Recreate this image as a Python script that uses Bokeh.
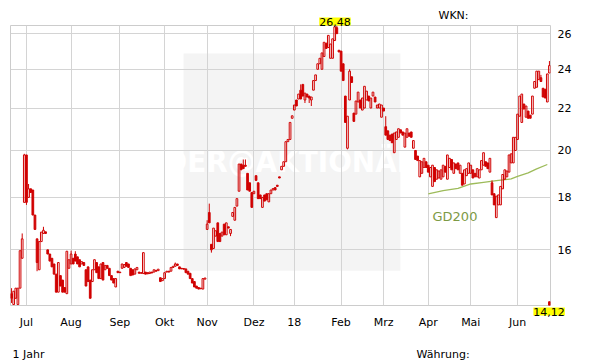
import numpy as np
import pandas as pd
from bokeh.plotting import figure
from bokeh.models import (FixedTicker, Label, BoxAnnotation, Range1d, Title,
                          LinearAxis, PrintfTickFormatter)
from bokeh.embed import file_html
from bokeh.resources import INLINE

# ---------------- data ----------------
holidays = ["2017-10-03", "2017-10-31", "2017-12-25", "2017-12-26",
            "2018-01-01", "2018-03-30", "2018-04-02", "2018-05-01"]
month_labels = ["Jul", "Aug", "Sep", "Okt", "Nov", "Dez", "18",
                "Feb", "Mrz", "Apr", "Mai", "Jun"]
y_ticks = [16, 18, 20, 22, 24, 26]

opens = [14.50, 14.15, 14.35, 14.15, 14.68, 15.70, 17.80, 19.80, 18.00, 18.35,
         18.30, 17.30, 16.40, 15.30, 16.30, 16.60, 16.66, 16.00, 15.85, 15.70,
         15.50, 15.15, 14.55, 15.10, 14.95, 14.70, 14.50, 15.35, 15.50, 15.70,
         15.85, 15.75, 15.65, 15.50, 15.55, 15.30, 15.40, 14.95, 14.90, 15.30,
         15.55, 15.40, 15.00, 15.55, 15.30, 15.45, 15.35, 15.10, 15.00, 14.72,
         15.25, 15.22, 15.35, 15.38, 15.55, 15.50, 15.35, 15.30, 15.15, 15.30,
         15.22, 15.20, 15.17, 15.22, 15.20, 15.17, 15.22, 15.22, 15.28, 15.27,
         15.03, 14.93, 15.00, 15.22, 15.25, 15.25, 15.38, 15.42, 15.50, 15.40,
         15.35, 15.34, 15.33, 15.25, 15.18, 15.00, 14.90, 14.75, 14.70, 14.68,
         14.65, 14.98, 16.75, 17.40, 16.20, 16.05, 16.50, 17.00, 16.60, 16.50,
         16.95, 16.55, 16.85, 16.60, 17.25, 17.10, 17.65, 18.25, 19.40, 19.35,
         19.35, 19.00, 18.60, 18.20, 18.15, 18.90, 18.60, 18.10, 17.60, 18.10,
         18.15, 17.82, 18.15, 18.30, 18.40, 18.50, 18.85, 19.15, 19.30, 19.50,
         20.40, 20.50, 21.50, 21.90, 22.40, 22.45, 22.90, 23.20, 22.40, 22.70,
         22.60, 22.40, 22.90, 23.40, 24.00, 24.30, 24.00, 24.70, 25.45, 25.20,
         24.60, 24.60, 25.60, 26.35, 25.05, 25.00, 24.30, 22.60, 20.10, 22.40,
         23.60, 21.75, 21.70, 22.30, 22.40, 21.90, 22.00, 22.40, 22.60, 22.00,
         22.60, 22.55, 22.00, 22.00, 21.55, 22.00, 21.10, 20.90, 20.70, 20.75,
         19.90, 20.50, 20.60, 20.95, 20.85, 20.15, 20.60, 20.80, 20.85, 20.10,
         20.00, 19.75, 18.85, 19.00, 19.25, 19.50, 19.35, 18.85, 18.45, 19.25,
         18.75, 18.80, 18.75, 18.85, 19.30, 18.75, 19.25, 19.60, 19.00, 19.40,
         19.45, 19.00, 19.00, 18.55, 18.90, 19.00, 19.00, 19.15, 19.00, 18.85,
         18.80, 19.15, 19.35, 19.50, 19.45, 19.05, 18.60, 18.15, 17.20, 17.70,
         17.70, 18.35, 18.75, 18.85, 19.05, 19.45, 19.45, 20.00, 20.50, 21.60,
         21.30, 22.20, 21.55, 21.85, 21.65, 21.70, 23.00, 23.05, 23.45, 23.55,
         23.00, 22.95, 22.30, 23.80]

closes = [14.35, 14.58, 14.68, 14.68, 15.97, 16.40, 19.80, 17.80, 18.35, 18.20,
          17.30, 16.75, 15.55, 16.30, 16.65, 16.72, 16.60, 15.85, 15.60, 15.40,
          15.15, 14.55, 15.55, 14.75, 14.55, 14.55, 15.95, 15.65, 15.85, 15.50,
          15.60, 15.50, 15.40, 15.58, 15.45, 14.75, 14.90, 14.35, 15.30, 15.65,
          15.20, 15.00, 15.50, 14.95, 15.45, 15.35, 15.10, 14.95, 14.85, 15.00,
          15.20, 15.20, 15.50, 15.48, 15.42, 15.38, 15.10, 15.12, 15.33, 15.38,
          15.18, 15.18, 15.90, 15.15, 15.16, 15.22, 15.19, 15.30, 15.25, 15.32,
          14.90, 15.00, 15.20, 15.25, 15.22, 15.38, 15.42, 15.50, 15.45, 15.33,
          15.33, 15.32, 15.20, 15.15, 15.00, 14.85, 14.72, 14.68, 14.65, 14.66,
          15.00, 15.02, 16.95, 17.00, 16.00, 16.80, 16.70, 16.30, 16.30, 16.65,
          16.55, 17.00, 16.80, 16.75, 17.40, 17.60, 17.95, 19.40, 19.15, 19.20,
          19.30, 18.30, 18.25, 17.60, 18.25, 18.70, 17.95, 17.95, 18.00, 17.85,
          17.90, 18.15, 18.30, 18.36, 18.30, 18.45, 18.80, 19.30, 19.50, 20.40,
          20.50, 21.30, 21.62, 22.15, 22.10, 22.70, 22.45, 22.60, 22.75, 22.55,
          22.50, 22.55, 23.40, 23.70, 24.30, 24.60, 24.90, 25.50, 25.15, 25.90,
          25.40, 25.70, 26.40, 26.00, 24.95, 23.90, 23.40, 21.30, 21.60, 23.90,
          23.30, 21.35, 22.35, 22.80, 22.00, 22.50, 23.10, 22.85, 22.35, 22.50,
          22.80, 22.30, 22.15, 22.20, 22.15, 21.85, 20.70, 20.50, 20.45, 20.35,
          20.80, 20.85, 21.00, 20.80, 20.70, 20.80, 21.00, 20.65, 20.60, 20.45,
          19.60, 19.55, 19.55, 19.50, 19.65, 19.25, 19.05, 19.25, 19.35, 18.65,
          19.15, 19.10, 19.15, 19.35, 19.05, 19.80, 19.65, 19.15, 19.45, 19.20,
          19.15, 19.35, 18.50, 19.15, 19.20, 19.45, 19.35, 18.80, 18.85, 19.20,
          19.15, 19.55, 19.90, 19.30, 19.20, 19.65, 18.10, 17.70, 18.05, 18.10,
          18.45, 18.95, 19.15, 19.10, 19.80, 19.85, 20.60, 20.60, 21.70, 22.60,
          22.70, 21.95, 22.10, 21.50, 21.50, 22.60, 23.35, 23.90, 23.90, 23.35,
          22.55, 22.50, 23.75, 24.20]

# wicks that reach beyond the candle bodies
wick_high_index = [0, 5, 6, 8, 15, 28, 30, 77, 92, 93, 109, 110, 136, 152, 153,
                   159, 176, 226, 249, 253]
wick_high_value = [14.68, 16.60, 19.85, 18.55, 16.85, 15.97, 15.95, 15.55, 17.10,
                   17.75, 19.60, 19.60, 23.20, 26.48, 26.48, 24.00, 21.60, 18.70,
                   23.70, 24.45]
wick_low_index = [0, 7, 12, 94, 103, 138, 140, 141, 158]
wick_low_value = [14.20, 17.70, 15.25, 15.90, 16.50, 22.25, 22.25, 22.10, 20.05]

# 200-day line (GD200)
gd200_index = [196, 203, 210, 216, 222, 228, 235, 238, 243, 247, 252]
gd200_value = [18.14, 18.28, 18.37, 18.55, 18.62, 18.69, 18.76, 18.87, 19.02,
               19.19, 19.38]

year_low = 14.12
year_high = 26.48
year_low_text = "14,12"
year_high_text = "26,48"
footer_labels = ["1 Jahr", "Währung:"]
footer_pos = [8, 203]          # trading-day slots under which they are centred

# ---------------- prep ----------------
dates = pd.bdate_range("2017-06-22", "2018-06-22")
dates = dates[~dates.isin(pd.to_datetime(holidays))]
n = min(len(dates), len(opens), len(closes))
dates = dates[:n]
o = np.array(opens[:n])
c = np.array(closes[:n])
idx = np.arange(n)
body_top = np.maximum(o, c)
body_bot = np.minimum(o, c)
high = body_top.copy()
low = body_bot.copy()
for i, v in zip(wick_high_index, wick_high_value):
    if i < n:
        high[i] = max(high[i], v)
for i, v in zip(wick_low_index, wick_low_value):
    if i < n:
        low[i] = min(low[i], v)

month_pos = [i for i in range(1, n) if dates[i].month != dates[i - 1].month]
month_pos = month_pos[:len(month_labels)]

RED = "#d00000"
FONT = "DejaVu Sans"

FL, FT, FW, FH = 10, 25, 540, 280   # frame box on the canvas
p = figure(width=611, height=364, output_backend="svg", toolbar_location=None,
           y_axis_type="log", y_axis_location="right",
           x_range=Range1d(-0.5, n - 0.5), y_range=Range1d(year_low, year_high),
           min_border_left=FL, min_border_right=611 - FL - FW,
           min_border_top=FT, min_border_bottom=364 - FT - FH)
p.background_fill_color = "white"
p.border_fill_color = "white"
p.outline_line_color = "#cccccc"
p.outline_line_width = 1

# watermark
p.add_layout(BoxAnnotation(left=80.9, right=182.9, top=24.87, bottom=15.27,
                           fill_color="#f4f4f4", fill_alpha=1.0,
                           line_color=None, level="image"))
p.add_layout(Label(x=131.5, y=19.55, text="DER@AKTIONÄR", text_align="center",
                   text_baseline="middle", text_color="#ffffff",
                   text_font="Liberation Sans Narrow, DejaVu Sans Condensed, DejaVu Sans",
                   text_font_style="bold",
                   text_font_size="31px", level="image"))

# axes
p.xaxis.ticker = FixedTicker(ticks=month_pos)
p.xaxis.major_label_overrides = {pos: lab for pos, lab in zip(month_pos, month_labels)}
p.yaxis.ticker = FixedTicker(ticks=y_ticks)
p.yaxis.formatter = PrintfTickFormatter(format="%d")

foot_axis = LinearAxis(ticker=FixedTicker(ticks=footer_pos),
                       major_label_overrides={k: v for k, v in zip(footer_pos, footer_labels)})

for ax in (p.xaxis[0], p.yaxis[0], foot_axis):
    ax.axis_line_color = None
    ax.major_tick_line_color = None
    ax.minor_tick_line_color = None
    ax.major_tick_out = 0
    ax.major_tick_in = 0
    ax.minor_tick_out = 0
    ax.major_label_text_font = FONT
    ax.major_label_text_font_size = "11px"
    ax.major_label_text_color = "#000000"
p.xaxis.major_label_standoff = 0
p.yaxis.major_label_standoff = 7
foot_axis.major_label_standoff = 16

p.xgrid.ticker = FixedTicker(ticks=month_pos)
p.ygrid.ticker = FixedTicker(ticks=y_ticks)
p.xgrid.grid_line_color = "#d4d4d4"
p.ygrid.grid_line_color = "#d4d4d4"
p.ygrid.minor_grid_line_color = None

# GD200 line
p.line(gd200_index, gd200_value, line_color="#9dbb5a", line_width=1.3)
p.add_layout(Label(x=198, y=17.26, text="GD200", text_align="left",
                   text_baseline="middle", text_color="#7d9a45",
                   text_font=FONT, text_font_size="13px"))

# candles
up = c >= o
p.segment(x0=idx, y0=body_top, x1=idx, y1=high, line_color=RED, line_width=1)
p.segment(x0=idx, y0=low, x1=idx, y1=body_bot, line_color=RED, line_width=1)
p.vbar(x=idx[up], width=0.8, top=body_top[up], bottom=body_bot[up],
       fill_color=None, line_color=RED, line_width=1)
p.vbar(x=idx[~up], width=0.8, top=body_top[~up], bottom=body_bot[~up],
       fill_color=RED, line_color=RED, line_width=1)

# year-low marker at the right edge
p.vbar(x=[n - 1], width=0.8, top=[14.24], bottom=[year_low],
       fill_color=RED, line_color=RED)

# texts outside the frame: titles in the side panels
peak_i = int(np.argmax(high))
slot = FW / n
high_title = Title(text=year_high_text, align="left",
                   offset=(peak_i + 0.5) * slot - 15.5, standoff=0,
                   text_font=FONT, text_font_size="11px",
                   text_font_style="normal", text_color="#000000",
                   background_fill_color="#ffff00")
wkn_title = Title(text="WKN:", align="left", offset=428, standoff=-12,
                  text_font=FONT, text_font_size="11px",
                  text_font_style="normal", text_color="#000000")
low_title = Title(text=year_low_text, align="left",
                  offset=(n - 1) * slot - 15, standoff=0,
                  text_font=FONT, text_font_size="11px",
                  text_font_style="normal", text_color="#000000",
                  background_fill_color="#ffff00")

p.above = [high_title, wkn_title] + list(p.above)
p.below = [low_title] + list(p.below) + [foot_axis]

open("out.html", "w").write(file_html(p, INLINE))
